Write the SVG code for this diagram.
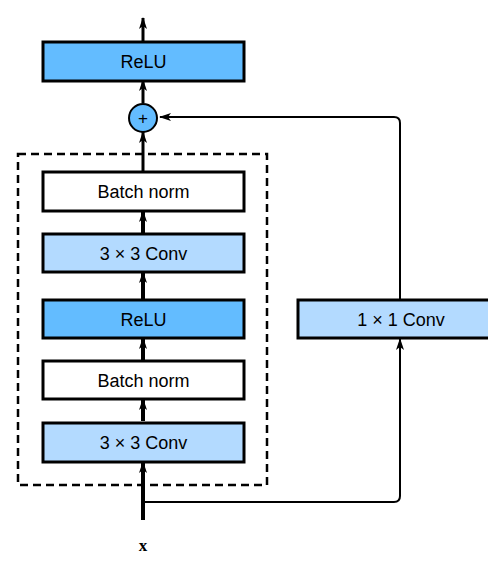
<svg xmlns="http://www.w3.org/2000/svg" width="488" height="567" viewBox="0 0 488 567">
<style>
.box{stroke:#000;stroke-width:3}
.relu{fill:#63BCFF}
.conv{fill:#B3DAFF}
.bn{fill:#fff}
.lbl{font-family:"Liberation Sans",Arial,sans-serif;font-size:18px;fill:#000;text-anchor:middle}
.thick{stroke:#000;stroke-width:4;fill:none}
.mid{stroke:#000;stroke-width:3;fill:none}
.thin{stroke:#000;stroke-width:2;fill:none}
</style>
<defs>
<marker id="ah" viewBox="0 0 12 8" refX="11" refY="4" markerWidth="12" markerHeight="8" markerUnits="userSpaceOnUse" orient="auto">
<path d="M0,0 L12,4 L0,8 L3,4 Z" fill="#000"/>
</marker>
</defs>
<rect x="18" y="154" width="249" height="331" fill="none" stroke="#000" stroke-width="2.5" stroke-dasharray="8,5"/>
<g id="connectors">
<path class="mid" d="M143,41 V18" marker-end="url(#ah)"/>
<path class="mid" d="M143,103 V80" marker-end="url(#ah)"/>
<path class="mid" d="M143,171 V132" marker-end="url(#ah)"/>
<path class="thick" d="M143,233 V211" marker-end="url(#ah)"/>
<path class="thick" d="M143,299 V272" marker-end="url(#ah)"/>
<path class="thick" d="M143,360 V338" marker-end="url(#ah)"/>
<path class="thick" d="M143,421 V399" marker-end="url(#ah)"/>
<path class="thick" d="M143,520 V462" marker-end="url(#ah)"/>
<path class="thin" d="M143,502 H394 Q400,502 400,496 V339" marker-end="url(#ah)"/>
<path class="thin" d="M400,299 V123 Q400,117 394,117 H160" marker-end="url(#ah)"/>
</g>
<g id="relu_top"><rect class="box relu" x="43" y="42" width="201" height="39"/><text class="lbl" x="143.5" y="68">ReLU</text></g>
<g id="add"><circle cx="143" cy="118" r="14" fill="#63BCFF" stroke="#000" stroke-width="2"/><text class="lbl" x="143" y="124" style="font-size:17px">+</text></g>
<g id="bn2"><rect class="box bn" x="43" y="172" width="201" height="39"/><text class="lbl" x="143.5" y="198">Batch norm</text></g>
<g id="conv2"><rect class="box conv" x="43" y="234" width="201" height="38"/><text class="lbl" x="143.5" y="260">3 × 3 Conv</text></g>
<g id="relu1"><rect class="box relu" x="43" y="300" width="201" height="38"/><text class="lbl" x="143.5" y="326">ReLU</text></g>
<g id="bn1"><rect class="box bn" x="43" y="361" width="201" height="38"/><text class="lbl" x="143.5" y="387">Batch norm</text></g>
<g id="conv1"><rect class="box conv" x="43" y="423" width="201" height="39"/><text class="lbl" x="143.5" y="449">3 × 3 Conv</text></g>
<g id="conv1x1"><rect class="box conv" x="298" y="300" width="192" height="38"/><text class="lbl" x="401" y="326">1 × 1 Conv</text></g>
<g id="input"><text x="143" y="551" font-family="Liberation Serif,serif" font-weight="bold" font-size="17" text-anchor="middle">x</text></g>
</svg>
